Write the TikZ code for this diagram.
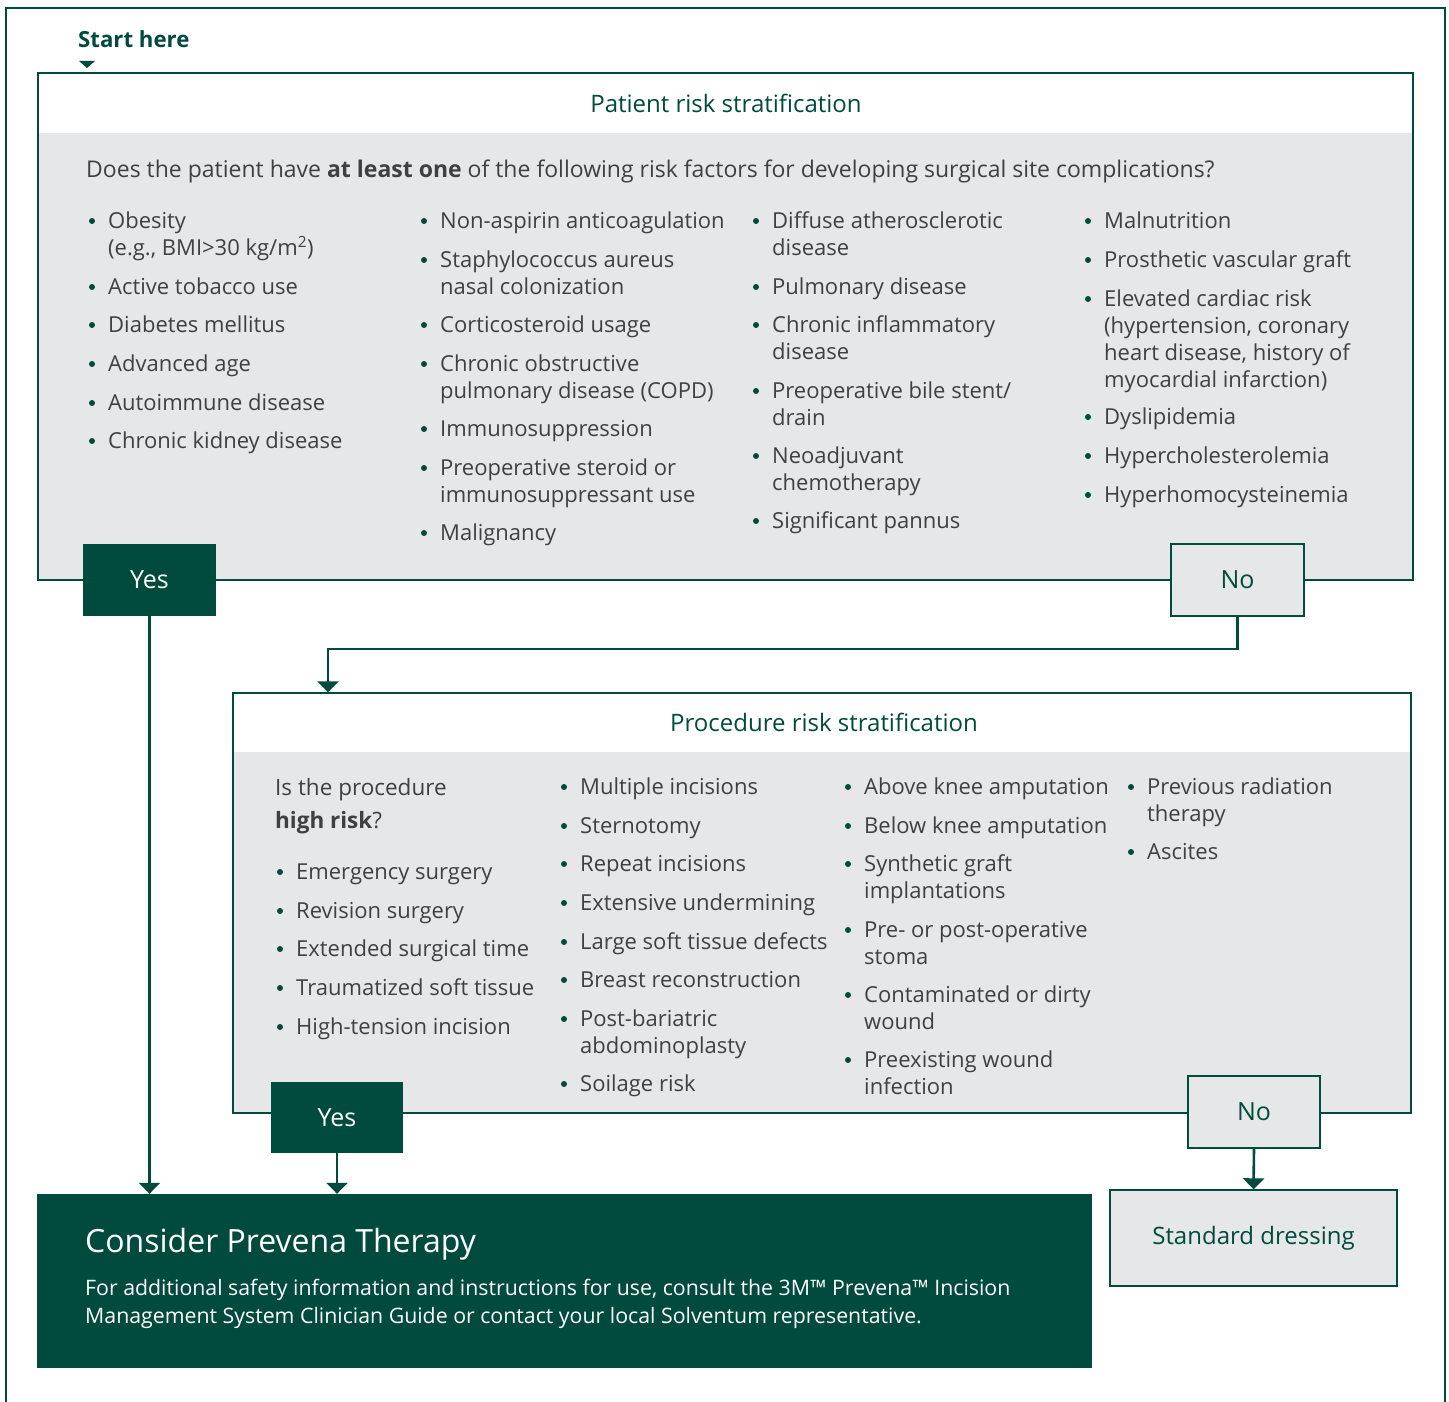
\documentclass[tikz,border=0pt]{standalone}
\usepackage{fontspec}
\setmainfont{Open Sans}
\usetikzlibrary{arrows.meta}
\definecolor{dkgreen}{HTML}{004B3D}
\definecolor{txtgray}{HTML}{3F4042}
\definecolor{boxgray}{HTML}{E6E7E8}
\tikzset{
  frame/.style={draw=dkgreen, line width=1.4pt},
  boxw/.style={rectangle, draw=dkgreen, line width=1.4pt, fill=white, inner sep=0pt},
  yesbox/.style={rectangle, fill=dkgreen, text=white, inner sep=0pt, minimum width=133pt, minimum height=72pt, font=\fontsize{25}{28}\selectfont},
  nobox/.style={rectangle, draw=dkgreen, line width=1.4pt, fill=boxgray, text=dkgreen, inner sep=0pt, minimum width=133pt, minimum height=72pt, font=\fontsize{25}{28}\selectfont},
  itm/.style={anchor=base west, inner sep=0pt, text=txtgray, font=\fontsize{22}{27}\selectfont},
  bul/.style={circle, fill=dkgreen, inner sep=0pt, minimum size=6pt},
  ttl/.style={anchor=base, inner sep=0pt, text=dkgreen, font=\fontsize{24}{28}\selectfont},
  conn/.style={draw=dkgreen, line width=2.6pt, -{Triangle[width=21pt,length=11pt]}},
}
\newcommand\lns[1]{\begin{tabular}[t]{@{}l@{}}#1\end{tabular}}
\newcommand\bitem[4]{%
  \node[bul] (#1b) at (#2-16,#3-7) {};
  \node[itm] (#1) at (#2,#3) {\lns{#4}};
}
\begin{document}
\begin{tikzpicture}[x=1pt,y=-1pt]
\useasboundingbox (0,0) rectangle (1449,1402);
% outer frame (open at bottom)
\draw[frame] (6,1402) -- (6,8) -- (1445,8) -- (1445,1402);
% start here
\node[anchor=base west, inner sep=0pt, text=dkgreen, font=\fontsize{22.2}{26}\selectfont\bfseries] (start) at (78,48) {Start here};
\fill[dkgreen] (79,61) -- (95,61) -- (87,68) -- cycle;
% ---------------- patient box
\node[boxw, minimum width=1375pt, minimum height=507pt] (pat) at (725.5,326.5) {};
\fill[boxgray] (38.7,133) rectangle (1412.3,579.3);
\node[ttl] (pattitle) at (726,113) {Patient risk stratification};
\node[itm, font=\fontsize{23}{27}\selectfont] (patq) at (86,178) {Does the patient have {\bfseries at least one} of the following risk factors for developing surgical site complications?};
% column 1
\bitem{a1}{108}{228}{Obesity\\(e.g., BMI>30 kg/m\textsuperscript{2})}
\bitem{a2}{108}{294}{Active tobacco use}
\bitem{a3}{108}{332}{Diabetes mellitus}
\bitem{a4}{108}{371}{Advanced age}
\bitem{a5}{108}{410}{Autoimmune disease}
\bitem{a6}{108}{448}{Chronic kidney disease}
% column 2
\bitem{b1}{440}{228}{Non-aspirin anticoagulation}
\bitem{b2}{440}{267}{Staphylococcus aureus\\nasal colonization}
\bitem{b3}{440}{332}{Corticosteroid usage}
\bitem{b4}{440}{371}{Chronic obstructive\\pulmonary disease (COPD)}
\bitem{b5}{440}{436}{Immunosuppression}
\bitem{b6}{440}{475}{Preoperative steroid or\\immunosuppressant use}
\bitem{b7}{440}{540}{Malignancy}
% column 3
\bitem{c1}{772}{228}{Diffuse atherosclerotic\\disease}
\bitem{c2}{772}{294}{Pulmonary disease}
\bitem{c3}{772}{332}{Chronic inflammatory\\disease}
\bitem{c4}{772}{398}{Preoperative bile stent/\\drain}
\bitem{c5}{772}{463}{Neoadjuvant\\chemotherapy}
\bitem{c6}{772}{528}{Significant pannus}
% column 4
\bitem{d1}{1104}{228}{Malnutrition}
\bitem{d2}{1104}{267}{Prosthetic vascular graft}
\bitem{d3}{1104}{306}{Elevated cardiac risk\\(hypertension, coronary\\heart disease, history of\\myocardial infarction)}
\bitem{d4}{1104}{424}{Dyslipidemia}
\bitem{d5}{1104}{463}{Hypercholesterolemia}
\bitem{d6}{1104}{502}{Hyperhomocysteinemia}
% yes / no
\node[yesbox] (yes1) at (149.5,580) {Yes};
\node[nobox] (no1) at (1237.5,580) {No};
% ---------------- procedure box
\node[boxw, minimum width=1178pt, minimum height=420pt] (proc) at (822,903) {};
\fill[boxgray] (233.7,752) rectangle (1410.3,1112.3);
\node[ttl] (proctitle) at (824,731) {Procedure risk stratification};
\node[itm, font=\fontsize{22.5}{33}\selectfont] (procq) at (275,795) {\lns{Is the procedure\\{\bfseries high risk}?}};
% column A
\bitem{e1}{296}{879}{Emergency surgery}
\bitem{e2}{296}{918}{Revision surgery}
\bitem{e3}{296}{956}{Extended surgical time}
\bitem{e4}{296}{995}{Traumatized soft tissue}
\bitem{e5}{296}{1034}{High-tension incision}
% column B
\bitem{f1}{580}{794}{Multiple incisions}
\bitem{f2}{580}{833}{Sternotomy}
\bitem{f3}{580}{871}{Repeat incisions}
\bitem{f4}{580}{910}{Extensive undermining}
\bitem{f5}{580}{949}{Large soft tissue defects}
\bitem{f6}{580}{987}{Breast reconstruction}
\bitem{f7}{580}{1026}{Post-bariatric\\abdominoplasty}
\bitem{f8}{580}{1091}{Soilage risk}
% column C
\bitem{g1}{864}{794}{Above knee amputation}
\bitem{g2}{864}{833}{Below knee amputation}
\bitem{g3}{864}{871}{Synthetic graft\\implantations}
\bitem{g4}{864}{937}{Pre- or post-operative\\stoma}
\bitem{g5}{864}{1002}{Contaminated or dirty\\wound}
\bitem{g6}{864}{1067}{Preexisting wound\\infection}
% column D
\bitem{h1}{1147}{794}{Previous radiation\\therapy}
\bitem{h2}{1147}{859}{Ascites}
% yes / no
\node[yesbox, minimum width=132pt, minimum height=71pt] (yes2) at (337,1117.5) {Yes};
\node[nobox, minimum width=132pt] (no2) at (1254,1112) {No};
% ---------------- outcomes
\node[rectangle, fill=dkgreen, inner sep=0pt, minimum width=1055pt, minimum height=174pt] (prev) at (564.5,1281) {};
\node[anchor=base west, inner sep=0pt, text=white, font=\fontsize{32}{36}\selectfont] (prevtitle) at (85,1252) {Consider Prevena Therapy};
\node[anchor=base west, inner sep=0pt, text=white, font=\fontsize{21.3}{28}\selectfont] (prevtext) at (85,1295) {\lns{For additional safety information and instructions for use, consult the 3M™ Prevena™ Incision\\Management System Clinician Guide or contact your local Solventum representative.}};
\node[nobox, minimum width=287pt, minimum height=96pt, font=\fontsize{24}{28}\selectfont] (std) at (1253.5,1238) {Standard dressing};
% ---------------- connectors
\coordinate (bend) at (328,649);
\draw[conn] (no1.south) |- (bend) -- (bend |- proc.north);
\draw[conn] (yes1.south) -- (yes1.south |- prev.north);
\draw[conn] (yes2.south) -- (yes2.south |- prev.north);
\draw[conn] (no2.south) -- (std.north);
\end{tikzpicture}
\end{document}
